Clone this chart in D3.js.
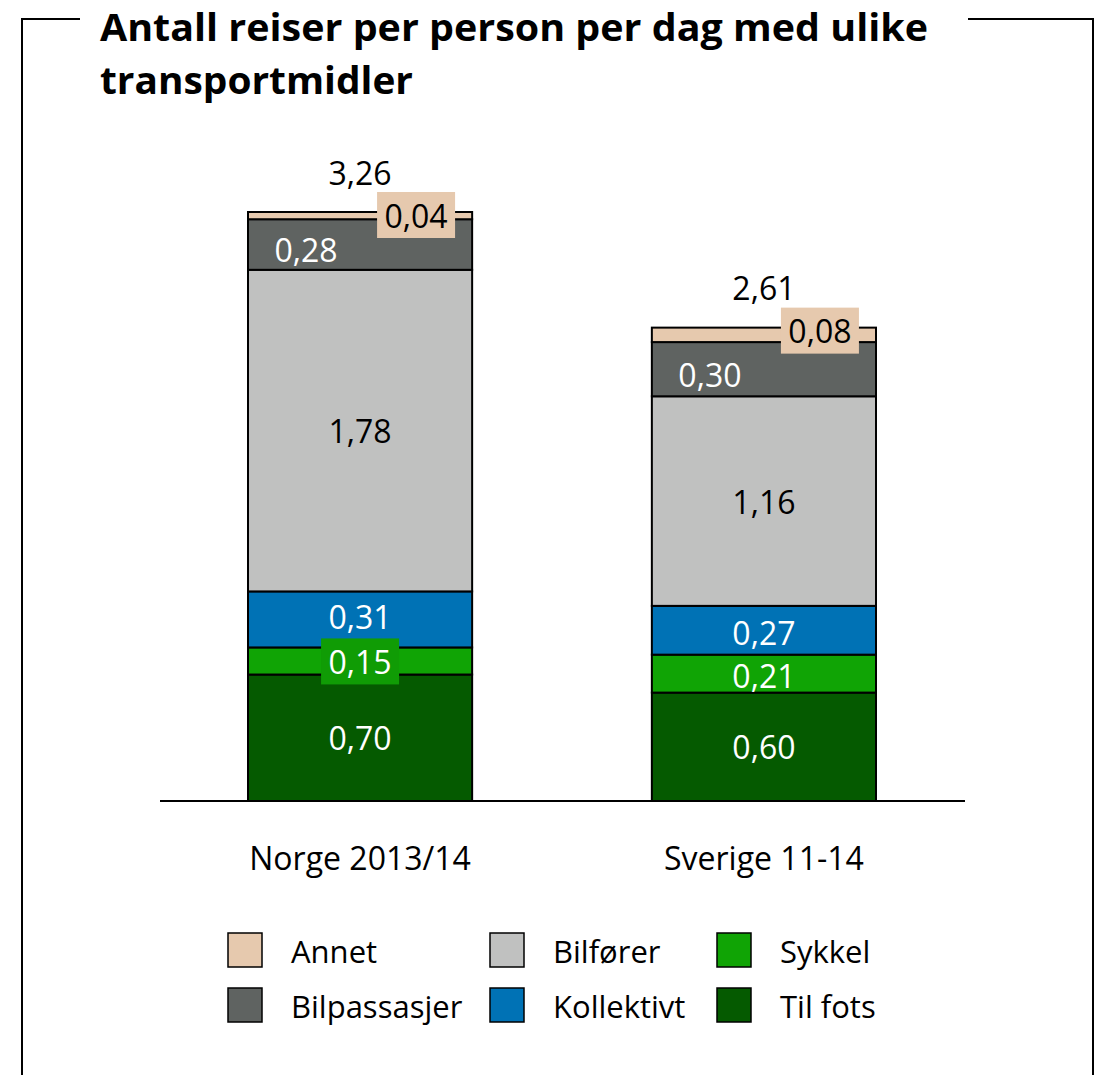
<!DOCTYPE html>
<html><head><meta charset="utf-8">
<script src="https://cdn.jsdelivr.net/npm/d3@7/dist/d3.min.js"></script>
<style>
body{margin:0;background:#fff;}
svg{display:block;font-family:"Open Sans",sans-serif;}
</style></head><body>
<svg id="c" width="1111" height="1075"></svg>
<script>
const categories = ["Norge 2013/14", "Sverige 11-14"];
const series = ["Til fots", "Sykkel", "Kollektivt", "Bilfører", "Bilpassasjer", "Annet"];
const tilFots = [0.70, 0.60];
const sykkel = [0.15, 0.21];
const kollektivt = [0.31, 0.27];
const bilforer = [1.78, 1.16];
const bilpassasjer = [0.28, 0.30];
const annet = [0.04, 0.08];
const totals = [3.26, 2.61];
const legendOrder = ["Annet", "Bilfører", "Sykkel", "Bilpassasjer", "Kollektivt", "Til fots"];

const values = {"Til fots": tilFots, "Sykkel": sykkel, "Kollektivt": kollektivt, "Bilfører": bilforer, "Bilpassasjer": bilpassasjer, "Annet": annet};
const colors = {"Til fots":"#055a00","Sykkel":"#10a405","Kollektivt":"#0072b5","Bilfører":"#c0c1c0","Bilpassasjer":"#5f6361","Annet":"#e6c9ae"};
const labelColor = {"Til fots":"#fff","Sykkel":"#fff","Kollektivt":"#fff","Bilfører":"#000","Bilpassasjer":"#fff","Annet":"#000"};
const fmt = v => d3.format(".2f")(v).replace(".", ",");

const svg = d3.select("#c");
// frame
const fr = svg.append("g").attr("fill","none").attr("stroke","#000").attr("stroke-width",2);
fr.append("path").attr("d","M22,1075 V19 H80");
fr.append("path").attr("d","M968,19 H1093 V1075");

const t1 = svg.append("text").attr("x",100).attr("y",31).attr("font-size",37).attr("font-weight","bold")
  .attr("dominant-baseline","middle").text("Antall reiser per person per dag med ulike");
const t2 = svg.append("text").attr("x",100).attr("y",84).attr("font-size",37).attr("font-weight","bold")
  .attr("dominant-baseline","middle").text("transportmidler");
[[t1,828],[t2,313]].forEach(([t,w])=>{ t.attr("textLength",w).attr("lengthAdjust","spacingAndGlyphs"); });

const x = d3.scaleBand().domain(categories).range([248,876]).paddingInner(0.445).paddingOuter(0);
const y = d3.scaleLinear().domain([0,3.26]).range([801,212]);

const stackData = categories.map((c,i)=>{const o={cat:c}; series.forEach(s=>o[s]=values[s][i]); return o;});
const stacked = d3.stack().keys(series)(stackData);

const g = svg.append("g");
stacked.forEach(layer=>{
  g.selectAll(null).data(layer).enter().append("rect")
   .attr("x",d=>x(d.data.cat)).attr("width",x.bandwidth())
   .attr("y",d=>y(d[1])).attr("height",d=>y(d[0])-y(d[1]))
   .attr("fill",colors[layer.key]).attr("stroke","#000").attr("stroke-width",2);
});

// axis
svg.append("line").attr("x1",160).attr("x2",965).attr("y1",801).attr("y2",801).attr("stroke","#000").attr("stroke-width",2);
svg.append("g").selectAll("text").data(categories).enter().append("text")
  .attr("x",d=>x(d)+x.bandwidth()/2).attr("y",861).attr("text-anchor","middle").attr("dominant-baseline","middle")
  .attr("font-size",32).text(d=>d);

// labels
const lg = svg.append("g").attr("font-size",32);
stacked.forEach(layer=>{
  layer.forEach((d,i)=>{
    const key = layer.key;
    let cx = x(d.data.cat)+x.bandwidth()/2;
    let cy = (y(d[0])+y(d[1]))/2;
    let box = null;
    if(key==="Annet"){ cx = x(d.data.cat)+x.bandwidth()/2 + 56; cy = y(d[1])+3; box = colors.Annet; }
    if(key==="Bilpassasjer"){ cx = x(d.data.cat)+x.bandwidth()/2 - 54; cy = (y(d[0])+y(d[1]))/2 + 5; }
    if(key==="Sykkel" && i===0){ cy = y(d[1]) + 14; box = "#109c05"; }
    if(key==="Kollektivt" && i===0){ cy = cy - 3; }
    if(key==="Sykkel" && i===1){ cy = cy + 2; }
    if(key==="Kollektivt" && i===1){ cy = cy + 2; }
    if(box){
      lg.append("rect").attr("x",cx-39).attr("y",cy-23).attr("width",78).attr("height",46).attr("fill",box);
    }
    lg.append("text").attr("x",cx).attr("y",cy).attr("text-anchor","middle").attr("dominant-baseline","central")
      .attr("fill",labelColor[key]).text(fmt(d.data[key]));
  });
});
categories.forEach((c,i)=>{
  lg.append("text").attr("x",x(c)+x.bandwidth()/2).attr("y",y(d3.sum(series,s=>values[s][i]))-40)
    .attr("text-anchor","middle").attr("dominant-baseline","central").text(fmt(totals[i]));
});

// legend
const legX = [228,490,717], legY = [933,988];
const leg = svg.append("g");
legendOrder.forEach((s,k)=>{
  const col = k%3, row = Math.floor(k/3);
  leg.append("rect").attr("x",legX[col]).attr("y",legY[row]).attr("width",34).attr("height",34)
    .attr("fill",colors[s]).attr("stroke","#000").attr("stroke-width",1.5);
  leg.append("text").attr("x",legX[col]+63).attr("y",legY[row]+22).attr("dominant-baseline","middle")
    .attr("font-size",31).text(s);
});
</script>
</body></html>
